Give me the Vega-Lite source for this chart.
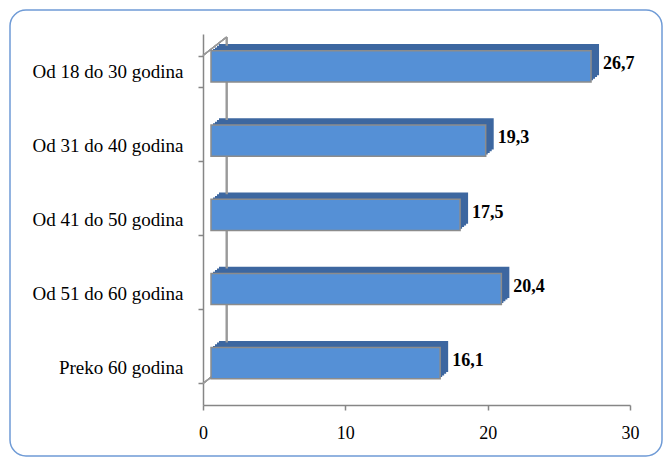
{
  "$schema": "https://vega.github.io/schema/vega-lite/v6.json",
  "width": 652,
  "height": 446,
  "autosize": {"type": "none"},
  "padding": {"left": 10, "top": 10, "right": 10, "bottom": 5},
  "background": "white",
  "config": {
    "view": {"stroke": "#6F9BD6", "strokeWidth": 1.5, "cornerRadius": 16},
    "font": "Liberation Serif"
  },
  "data": {
    "values": [
      {"group": "Od 18 do 30 godina", "value": 26.7, "label": "26,7"},
      {"group": "Od 31 do 40 godina", "value": 19.3, "label": "19,3"},
      {"group": "Od 41 do 50 godina", "value": 17.5, "label": "17,5"},
      {"group": "Od 51 do 60 godina", "value": 20.4, "label": "20,4"},
      {"group": "Preko 60 godina", "value": 16.1, "label": "16,1"}
    ]
  },
  "layer": [
    {
      "mark": {"type": "bar", "color": "#3D67A0", "xOffset": 16, "x2Offset": 16, "yOffset": -11.4, "y2Offset": -11.4},
      "encoding": {
        "y": {
          "field": "group", "type": "nominal", "sort": null,
          "scale": {"range": [24, 395], "paddingInner": 0.58, "paddingOuter": 0.29},
          "axis": {
            "title": null, "orient": "left", "offset": -193, "tickBand": "extent",
            "tickSize": 5, "tickColor": "#868686", "tickWidth": 1.5,
            "domainColor": "#868686", "domainWidth": 1.5,
            "labelFont": "Liberation Serif", "labelFontSize": 19, "labelColor": "#000000",
            "labelPadding": 15, "grid": false
          }
        },
        "x": {
          "field": "value", "type": "quantitative",
          "scale": {"domain": [0, 30], "range": [193, 620], "nice": false},
          "axis": {
            "title": null, "orient": "bottom", "offset": -51, "values": [0, 10, 20, 30],
            "format": "d", "tickSize": 5, "tickColor": "#868686", "tickWidth": 1.5,
            "domainColor": "#868686", "domainWidth": 1.5, "labelFlush": false,
            "labelFont": "Liberation Serif", "labelFontSize": 18, "labelColor": "#000000",
            "labelPadding": 14, "grid": false
          }
        }
      }
    },
    {
      "mark": {"type": "rule", "color": "#9A9A9A", "strokeWidth": 1.5, "yOffset": -18.5, "y2Offset": -18.5},
      "encoding": {
        "x": {"datum": 1.66, "type": "quantitative"},
        "y": {"datum": "Od 18 do 30 godina", "type": "nominal", "bandPosition": 0},
        "y2": {"datum": "Preko 60 godina", "bandPosition": 1}
      }
    },
    {
      "mark": {"type": "rule", "color": "#9A9A9A", "strokeWidth": 1.2, "y2Offset": -18.5},
      "encoding": {
        "x": {"datum": 0, "type": "quantitative"},
        "x2": {"datum": 1.66},
        "y": {"datum": "Od 18 do 30 godina", "type": "nominal", "bandPosition": 0},
        "y2": {"datum": "Od 18 do 30 godina", "bandPosition": 0}
      }
    },
    {
      "mark": {"type": "rule", "color": "#9A9A9A", "strokeWidth": 1.2, "y2Offset": -18.5},
      "encoding": {
        "x": {"datum": 0, "type": "quantitative"},
        "x2": {"datum": 1.66},
        "y": {"datum": "Preko 60 godina", "type": "nominal", "bandPosition": 1},
        "y2": {"datum": "Preko 60 godina", "bandPosition": 1}
      }
    },
    {
      "mark": {"type": "bar", "color": "#3D67A0", "xOffset": 14, "x2Offset": 14, "yOffset": -9.7, "y2Offset": -9.7},
      "encoding": {
        "y": {"field": "group", "type": "nominal", "sort": null},
        "x": {"field": "value", "type": "quantitative"}
      }
    },
    {
      "mark": {"type": "bar", "color": "#3D67A0", "xOffset": 12, "x2Offset": 12, "yOffset": -8.0, "y2Offset": -8.0},
      "encoding": {
        "y": {"field": "group", "type": "nominal", "sort": null},
        "x": {"field": "value", "type": "quantitative"}
      }
    },
    {
      "mark": {"type": "bar", "color": "#3D67A0", "xOffset": 10, "x2Offset": 10, "yOffset": -6.4, "y2Offset": -6.4},
      "encoding": {
        "y": {"field": "group", "type": "nominal", "sort": null},
        "x": {"field": "value", "type": "quantitative"}
      }
    },
    {
      "mark": {"type": "bar", "color": "#5590D6", "stroke": "#8C8C8C", "strokeWidth": 1.5, "xOffset": 8, "x2Offset": 8, "yOffset": -4.7, "y2Offset": -4.7},
      "encoding": {
        "y": {"field": "group", "type": "nominal", "sort": null},
        "x": {"field": "value", "type": "quantitative"}
      }
    },
    {
      "mark": {"type": "text", "align": "left", "baseline": "middle", "dx": 20, "dy": -7, "fontWeight": "bold", "fontSize": 18, "font": "Liberation Serif", "color": "#000000"},
      "encoding": {
        "y": {"field": "group", "type": "nominal", "sort": null},
        "x": {"field": "value", "type": "quantitative"},
        "text": {"field": "label"}
      }
    }
  ]
}
